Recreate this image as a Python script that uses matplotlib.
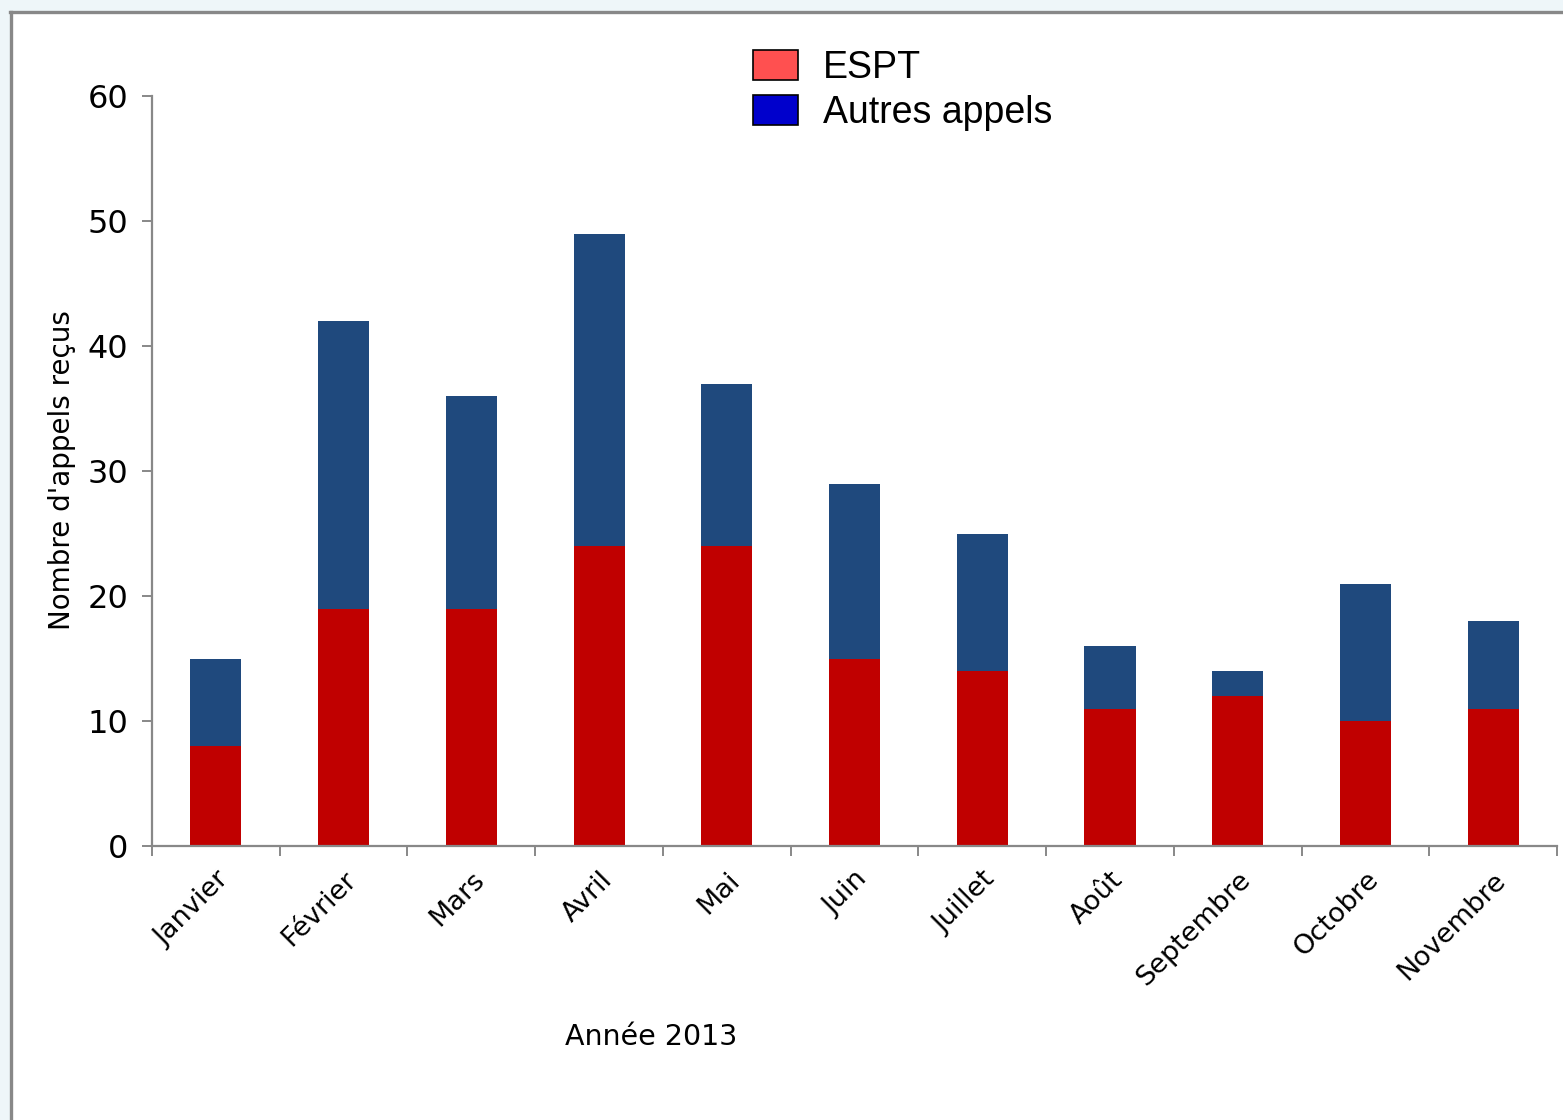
import numpy as np
import matplotlib
matplotlib.use("Agg")
import matplotlib.pyplot as plt
import matplotlib.patches as mpatches
from matplotlib.lines import Line2D

mois = ["Janvier", "Février", "Mars", "Avril", "Mai", "Juin", "Juillet",
        "Août", "Septembre", "Octobre", "Novembre"]
espt = [8, 19, 19, 24, 24, 15, 14, 11, 12, 10, 11]
autres = [7, 23, 17, 25, 13, 14, 11, 5, 2, 11, 7]
yticks = [0, 10, 20, 30, 40, 50, 60]

W, H = 1563, 1120
fig = plt.figure(figsize=(W / 100, H / 100), dpi=100, facecolor="#EEF6F9")

# white panel with gray frame (left and top edges visible)
fig.patches.append(mpatches.Rectangle((10 / W, 0), 1, 1 - 12 / H, transform=fig.transFigure,
                                      facecolor="white", edgecolor="none", zorder=-5))
fig.lines.append(Line2D([10.5 / W, 10.5 / W], [0, 1 - 12 / H], transform=fig.transFigure,
                        color="#888888", linewidth=2.4, zorder=-4))
fig.lines.append(Line2D([10 / W, 1], [1 - 12 / H, 1 - 12 / H], transform=fig.transFigure,
                        color="#888888", linewidth=2.4, zorder=-4))

ax = fig.add_axes([152 / W, 1 - 846 / H, (1557 - 152) / W, (846 - 96) / H])
ax.set_facecolor("none")

x = np.arange(len(mois))
ax.bar(x, espt, width=0.4, color="#C00000", zorder=2)
ax.bar(x, autres, width=0.4, bottom=espt, color="#1F497D", zorder=2)

ax.set_xlim(-0.5, len(mois) - 0.5)
ax.set_ylim(0, 60)
ax.set_yticks(yticks)

for s in ["top", "right"]:
    ax.spines[s].set_visible(False)
for s in ["left", "bottom"]:
    ax.spines[s].set_color("#888888")
    ax.spines[s].set_linewidth(1.6)

ax.set_xticks(x)
ax.set_xticklabels(mois, rotation=45, ha="right", va="top", rotation_mode="anchor",
                   fontsize=19.5)
ax.set_xticks(np.arange(len(mois) + 1) - 0.5, minor=True)
ax.tick_params(axis="x", which="major", length=0, pad=15)
ax.tick_params(axis="x", which="minor", length=7, width=1.4, color="#888888")
ax.tick_params(axis="y", length=7, width=1.4, color="#888888", labelsize=23, pad=10)

ax.set_ylabel("Nombre d'appels reçus", fontsize=20)
ax.yaxis.set_label_coords((76 - 152) / (1557 - 152), (846 - 470) / (846 - 96))
fig.text(651 / W, 1 - 1037 / H, "Année 2013", fontsize=20.5, ha="center", va="center")

handles = [mpatches.Patch(facecolor="#FF5050", edgecolor="black", linewidth=1.2),
           mpatches.Patch(facecolor="#0000CC", edgecolor="black", linewidth=1.2)]
fig.legend(handles, ["ESPT", "Autres appels"], loc="upper left",
           bbox_to_anchor=(719 / W, 1 - 16 / H), frameon=False,
           prop={"family": "Liberation Sans", "size": 27},
           handlelength=1.2, handleheight=0.85, handletextpad=0.68, labelspacing=0.25)

fig.savefig("out.png", dpi=100, facecolor=fig.get_facecolor())
